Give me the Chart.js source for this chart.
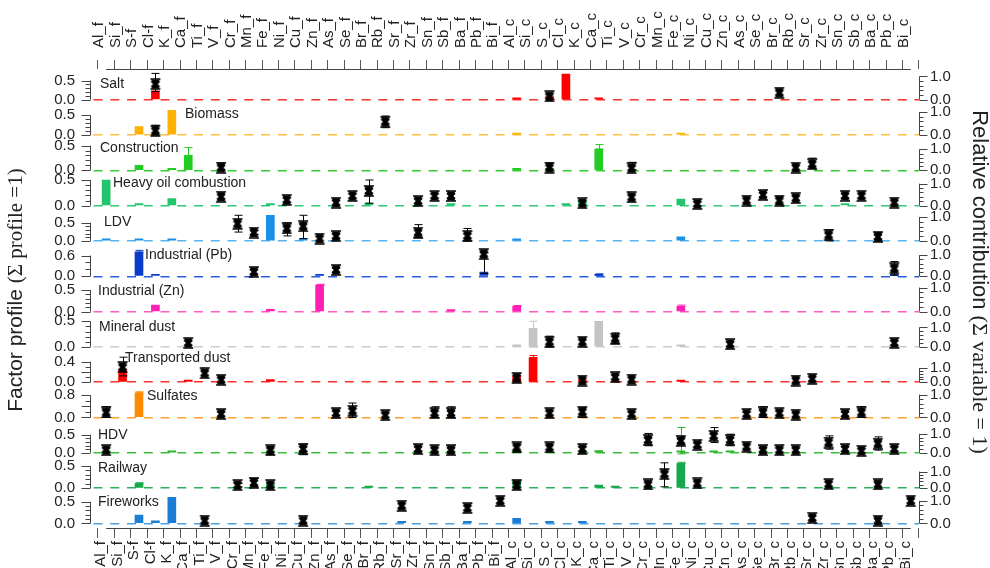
<!DOCTYPE html>
<html>
<head>
<meta charset="utf-8">
<script src="https://cdn.jsdelivr.net/npm/chart.js@4.4.1/dist/chart.umd.min.js"></script>
<style>
  html, body { margin: 0; padding: 0; background: #fff; }
  #wrap { width: 990px; height: 568px; }
</style>
</head>
<body>
<div id="wrap"><canvas id="chartCanvas"></canvas></div>
<script>
// Variables (fine and coarse fraction)
const categories = ['Al_f','Si_f','S-f','Cl-f','K_f','Ca_f','Ti_f','V_f','Cr_f','Mn_f','Fe_f','Ni_f','Cu_f','Zn_f',
  'As_f','Se_f','Br_f','Rb_f','Sr_f','Zr_f','Sn_f','Sb_f','Ba_f','Pb_f','Bi_f',
  'Al_c','Si_c','S_c','Cl_c','K_c','Ca_c','Ti_c','V_c','Cr_c','Mn_c','Fe_c','Ni_c','Cu_c','Zn_c',
  'As_c','Se_c','Br_c','Rb_c','Sr_c','Zr_c','Sn_c','Sb_c','Ba_c','Pb_c','Bi_c'];

// [variable, factor profile, (err low, err high)]
const saltProfile = [['Cl-f', 0.23], ['Al_c', 0.03], ['S_c', 0.08], ['Cl_c', 0.67], ['Ca_c', 0.01]];
const biomassProfile = [['S-f', 0.21], ['K_f', 0.62], ['Al_c', 0.01], ['Fe_c', 0.01]];
const constructionProfile = [['S-f', 0.10], ['K_f', 0.01], ['Ca_f', 0.30, 0.30, 0.46], ['Al_c', 0.035], ['S_c', 0.03], ['Ca_c', 0.43, 0.43, 0.52]];
const heavyOilProfile = [['Al_f', 0.50], ['S-f', 0.02], ['K_f', 0.14], ['Fe_f', 0.03], ['Br_f', 0.05], ['Sb_f', 0.03],
  ['Cl_c', 0.01], ['K_c', 0.10], ['Fe_c', 0.13], ['Sn_c', 0.03]];
const ldvProfile = [['Al_f', 0.02], ['S-f', 0.03], ['K_f', 0.02], ['Fe_f', 0.70], ['Cu_f', 0.05], ['Al_c', 0.02], ['Fe_c', 0.11]];
const pbProfile = [['S-f', 0.70, 0.70, 0.75], ['Cl-f', 0.02], ['Zn_f', 0.02], ['Pb_f', 0.12], ['Ca_c', 0.05, 0.03, 0.07], ['Pb_c', 0.03]];
const znProfile = [['Cl-f', 0.15], ['Fe_f', 0.05], ['Zn_f', 0.61, 0.61, 0.63], ['Sb_f', 0.02], ['Al_c', 0.12, 0.12, 0.14], ['Fe_c', 0.12, 0.12, 0.15]];
const mineralProfile = [['Al_c', 0.02], ['Si_c', 0.36, 0.0, 0.50], ['Ca_c', 0.50], ['Fe_c', 0.02]];
const transportedProfile = [['Si_f', 0.24], ['Ca_f', 0.02], ['Fe_f', 0.05], ['Al_c', 0.13], ['Si_c', 0.48, 0.48, 0.52], ['K_c', 0.02], ['Fe_c', 0.03]];
const sulfatesProfile = [['S-f', 0.88, 0.88, 0.92]];
const hdvProfile = [['Al_f', 0.05], ['K_f', 0.01], ['Fe_f', 0.05], ['Cu_f', 0.05], ['Zr_f', 0.03], ['Sn_f', 0.03], ['Sb_f', 0.03],
  ['Al_c', 0.07], ['Ca_c', 0.06], ['Fe_c', 0.02, -0.03, 0.70], ['Cu_c', 0.02], ['Zn_c', 0.02], ['Se_c', 0.03]];
const railwayProfile = [['S-f', 0.10, 0.10, 0.12], ['Fe_f', 0.09], ['Br_f', 0.01], ['Al_c', 0.16, 0.16, 0.18], ['Ca_c', 0.07],
  ['Ti_c', 0.01], ['Cr_c', 0.02], ['Fe_c', 0.55, 0.55, 0.58]];
const fireworksProfile = [['S-f', 0.19], ['Cl-f', 0.06], ['K_f', 0.60], ['Sr_f', 0.02], ['Ba_f', 0.02], ['Al_c', 0.12], ['S_c', 0.03], ['K_c', 0.03]];

// [variable, relative contribution, (err low, err high)]
const saltContrib = [['Cl-f', 0.67, 0.35, 1.13], ['S_c', 0.14], ['Br_c', 0.30]];
const biomassContrib = [['Cl-f', 0.19, 0.0, 0.43], ['Rb_f', 0.58, 0.32, 0.83]];
const constructionContrib = [['V_f', 0.13, 0.02, 0.35], ['S_c', 0.13, 0.05, 0.35], ['V_c', 0.10, 0.02, 0.38], ['Rb_c', 0.13], ['Sr_c', 0.29, 0.10, 0.58]];
const heavyOilContrib = [['V_f', 0.41], ['Ni_f', 0.26], ['As_f', 0.14], ['Se_f', 0.44], ['Br_f', 0.67, 0.11, 1.17], ['Zr_f', 0.21],
  ['Sn_f', 0.44], ['Sb_f', 0.44], ['K_c', 0.11], ['V_c', 0.38], ['Ni_c', 0.08], ['As_c', 0.23], ['Se_c', 0.49],
  ['Br_c', 0.23, 0.05, 0.40], ['Rb_c', 0.34], ['Sn_c', 0.45], ['Sb_c', 0.45], ['Pb_c', 0.14]];
const ldvContrib = [['Cr_f', 0.72, 0.37, 1.07], ['Mn_f', 0.35, 0.27, 0.43], ['Ni_f', 0.52, 0.21, 0.75], ['Cu_f', 0.61, 0.10, 1.07],
  ['Zn_f', 0.10], ['As_f', 0.20], ['Zr_f', 0.35, 0.14, 0.68], ['Ba_f', 0.21, 0.0, 0.52], ['Zr_c', 0.24, 0.0, 0.47], ['Ba_c', 0.17, 0.0, 0.35]];
const pbContrib = [['Mn_f', 0.21], ['As_f', 0.30], ['Pb_f', 1.05, 0.13, 1.11], ['Pb_c', 0.37, 0.05, 0.70]];
const znContrib = [];
const mineralContrib = [['Ca_f', 0.20], ['S_c', 0.26, 0.0, 0.55], ['K_c', 0.26], ['Ti_c', 0.43, 0.17, 0.72], ['Zn_c', 0.14], ['Pb_c', 0.20]];
const transportedContrib = [['Si_f', 1.07, 0.45, 1.79], ['Ti_f', 0.64], ['V_f', 0.17], ['Al_c', 0.31], ['K_c', 0.12],
  ['Ti_c', 0.36], ['V_c', 0.19], ['Rb_c', 0.12], ['Sr_c', 0.24]];
const sulfatesContrib = [['Al_f', 0.22, 0.0, 0.47], ['V_f', 0.15], ['As_f', 0.19], ['Se_f', 0.29, 0.0, 0.63], ['Rb_f', 0.10],
  ['Sn_f', 0.19, 0.0, 0.47], ['Sb_f', 0.19, 0.0, 0.47], ['S_c', 0.19], ['K_c', 0.25, 0.0, 0.41], ['V_c', 0.15], ['As_c', 0.15],
  ['Se_c', 0.22, 0.0, 0.47], ['Br_c', 0.19], ['Rb_c', 0.12], ['Sn_c', 0.15], ['Sb_c', 0.22, 0.0, 0.47]];
const hdvContrib = [['Al_f', 0.14], ['Fe_f', 0.14, -0.1, 0.32], ['Cu_f', 0.20, -0.1, 0.46], ['Zr_f', 0.20], ['Sn_f', 0.14], ['Sb_f', 0.14],
  ['Al_c', 0.28, 0.07, 0.46], ['S_c', 0.28], ['K_c', 0.20, 0.08, 0.32], ['Cr_c', 0.67, 0.37, 1.02], ['Fe_c', 0.63, 0.45, 0.82],
  ['Ni_c', 0.42, 0.30, 0.54], ['Cu_c', 0.89, 0.54, 1.33], ['Zn_c', 0.67, 0.37, 0.98], ['As_c', 0.32], ['Se_c', 0.14], ['Br_c', 0.14],
  ['Rb_c', 0.14], ['Zr_c', 0.54, 0.19, 0.89], ['Sn_c', 0.20], ['Sb_c', 0.10], ['Ba_c', 0.49, 0.14, 0.84], ['Pb_c', 0.20]];
const railwayContrib = [['Cr_f', 0.18, 0.08, 0.28], ['Mn_f', 0.32, 0.08, 0.59], ['Fe_f', 0.18], ['Al_c', 0.18], ['Cr_c', 0.22],
  ['Mn_c', 0.85, 0.08, 1.53], ['Ni_c', 0.28], ['Zr_c', 0.24], ['Ba_c', 0.22]];
const fireworksContrib = [['Ti_f', 0.12], ['Cu_f', 0.12], ['Sr_f', 0.78], ['Ba_f', 0.68], ['Bi_f', 1.0], ['Sr_c', 0.24], ['Ba_c', 0.12], ['Bi_c', 1.0]];

// panel styling: axis maxima, ticks, colours, label placement
const panels = [
  {name: 'Salt', profile: saltProfile, contrib: saltContrib, color: '#ff0000', line: '#ff3030', lMax: 0.80, rMax: 1.32, lTicks: [0, 0.5], lMinor: 0.1, tx: 100, ty: 16},
  {name: 'Biomass', profile: biomassProfile, contrib: biomassContrib, color: '#ffb000', line: '#ffc040', lMax: 0.77, rMax: 1.34, lTicks: [0, 0.5], lMinor: 0.1, tx: 185, ty: 21},
  {name: 'Construction', profile: constructionProfile, contrib: constructionContrib, color: '#22cc22', line: '#33cc33', lMax: 0.62, rMax: 1.46, lTicks: [0, 0.5], lMinor: 0.1, tx: 100, ty: 22},
  {name: 'Heavy oil combustion', profile: heavyOilProfile, contrib: heavyOilContrib, color: '#22c46e', line: '#33c878', lMax: 0.60, rMax: 1.40, lTicks: [0, 0.5], lMinor: 0.1, tx: 113, ty: 23},
  {name: 'LDV', profile: ldvProfile, contrib: ldvContrib, color: '#1a8fe8', line: '#5ab4f0', lMax: 0.84, rMax: 1.28, lTicks: [0, 0.5], lMinor: 0.1, tx: 104, ty: 19},
  {name: 'Industrial (Pb)', profile: pbProfile, contrib: pbContrib, color: '#0a3ccc', line: '#2a5ee0', lMax: 0.89, rMax: 1.46, lTicks: [0, 0.6], lMinor: 0.2, tx: 145, ty: 21},
  {name: 'Industrial (Zn)', profile: znProfile, contrib: znContrib, color: '#ff1fb4', line: '#ff5ac8', lMax: 0.71, rMax: 1.28, lTicks: [0, 0.5], lMinor: 0.1, tx: 98, ty: 20},
  {name: 'Mineral dust', profile: mineralProfile, contrib: mineralContrib, color: '#c4c4c4', line: '#cccccc', lMax: 0.60, rMax: 1.58, lTicks: [0, 0.5], lMinor: 0.1, tx: 99, ty: 20},
  {name: 'Transported dust', profile: transportedProfile, contrib: transportedContrib, color: '#ff0000', line: '#ff3030', lMax: 0.60, rMax: 2.20, lTicks: [0, 0.2, 0.4], lMinor: 0.1, tx: 125, ty: 24},
  {name: 'Sulfates', profile: sulfatesProfile, contrib: sulfatesContrib, color: '#ff8c00', line: '#ffa030', lMax: 1.10, rMax: 1.34, lTicks: [0, 0.4, 0.8], lMinor: 0.2, tx: 147, ty: 21},
  {name: 'HDV', profile: hdvProfile, contrib: hdvContrib, color: '#2cb52c', line: '#3cbc3c', lMax: 0.85, rMax: 1.62, lTicks: [0, 0.5], lMinor: 0.1, tx: 98, ty: 18},
  {name: 'Railway', profile: railwayProfile, contrib: railwayContrib, color: '#16a84c', line: '#2cb05a', lMax: 0.69, rMax: 1.86, lTicks: [0, 0.5], lMinor: 0.1, tx: 98, ty: 20},
  {name: 'Fireworks', profile: fireworksProfile, contrib: fireworksContrib, color: '#1a7fd4', line: '#4aa0e0', lMax: 0.71, rMax: 1.36, lTicks: [0, 0.5], lMinor: 0.1, tx: 98, ty: 21}
];
const rightTicks = [0, 1];
const ZERO_FRAC = 0.1494; // axis min as fraction of max, keeps the zero line near panel bottom

const sans = '"Liberation Sans", Arial, sans-serif';
const serif = '"Liberation Serif", "Times New Roman", serif';
const idx = name => categories.indexOf(name);

// bold black cross marker with caps
function makeMarker() {
  const c = document.createElement('canvas');
  c.width = 12; c.height = 12;
  const g = c.getContext('2d');
  g.fillStyle = '#000';
  g.strokeStyle = '#000';
  // hourglass body
  g.beginPath();
  g.moveTo(1.5, 1.5); g.lineTo(10.5, 1.5); g.lineTo(6, 6); g.lineTo(10.5, 10.5); g.lineTo(1.5, 10.5); g.lineTo(6, 6);
  g.closePath();
  g.fill();
  // cross arms
  g.lineWidth = 3.2;
  g.beginPath();
  g.moveTo(2.5, 2.5); g.lineTo(9.5, 9.5);
  g.moveTo(9.5, 2.5); g.lineTo(2.5, 9.5);
  g.stroke();
  g.lineWidth = 1.6;
  g.beginPath();
  g.moveTo(1, 1); g.lineTo(11, 1);
  g.moveTo(1, 11); g.lineTo(11, 11);
  g.stroke();
  return c;
}
const marker = makeMarker();

// scales
const xCommon = (pos) => ({
  type: 'linear', position: pos, min: -0.418, max: 49,
  afterBuildTicks: s => { s.ticks = categories.map((c, i) => ({value: i})); },
  afterFit: s => { s.height = pos === 'top' ? 69 : 40; },
  grid: {drawOnChartArea: false, drawTicks: true, tickLength: pos === 'top' ? 9 : 10, tickColor: '#555', tickWidth: 1},
  border: {display: false},
  ticks: {autoSkip: false, minRotation: 90, maxRotation: 90, padding: pos === 'top' ? 12 : 3,
    labelOffset: pos === 'top' ? 11 : -5,
    color: '#222', font: {family: sans, size: 15}, callback: v => categories[v] ?? ''}
});
const scales = {x: xCommon('bottom'), xt: xCommon('top')};

for (let i = panels.length - 1; i >= 0; i--) {
  const p = panels[i];
  scales['L' + i] = {
    type: 'linear', position: 'left', stack: 'left', stackWeight: 1,
    min: -p.lMax * ZERO_FRAC, max: p.lMax,
    afterBuildTicks: s => { s.ticks = p.lTicks.map(v => ({value: v})); },
    afterFit: s => { s.width = 91; },
    grid: {drawTicks: false, lineWidth: 1.5, color: ctx => (ctx.tick && ctx.tick.value === 0) ? p.line : 'rgba(0,0,0,0)'},
    border: {display: false, dash: [9, 7.755], dashOffset: -2.5},
    ticks: {padding: 16, color: '#222', font: {family: sans, size: 15}, callback: v => v.toFixed(1)}
  };
}
panels.forEach((p, i) => {
  scales['R' + i] = {
    type: 'linear', position: 'right', stack: 'right', stackWeight: 1,
    min: -p.rMax * ZERO_FRAC, max: p.rMax,
    afterBuildTicks: s => { s.ticks = rightTicks.map(v => ({value: v})); },
    afterFit: s => { s.width = 71; },
    grid: {display: false, drawTicks: false},
    border: {display: false},
    ticks: {padding: 11, color: '#222', font: {family: sans, size: 15}, callback: v => v.toFixed(1)}
  };
});

// datasets
const datasets = [];
panels.forEach((p, i) => {
  datasets.push({
    type: 'bar', label: p.name + ' profile', xAxisID: 'x', yAxisID: 'L' + i,
    data: p.profile.map(r => ({x: idx(r[0]), y: r[1]})),
    errs: p.profile.map(r => r.length > 3 ? [r[2], r[3]] : null), errColor: p.color,
    backgroundColor: p.color, barThickness: 8, minBarLength: 2, grouped: false, order: 2
  });
  datasets.push({
    type: 'line', label: p.name + ' contribution', xAxisID: 'x', yAxisID: 'R' + i,
    data: p.contrib.map(r => ({x: idx(r[0]), y: r[1]})),
    errs: p.contrib.map(r => r.length > 3 ? [r[2], r[3]] : null), errColor: '#000',
    showLine: false, pointStyle: marker, pointRadius: 5, clip: false, order: 1
  });
});

function drawErrs(chart, index) {
  const ds = chart.data.datasets[index];
  if (!ds.errs) return;
  const meta = chart.getDatasetMeta(index);
  const ys = chart.scales[ds.yAxisID];
  const g = chart.ctx;
  g.save();
  g.strokeStyle = ds.errColor;
  g.lineWidth = 1;
  ds.errs.forEach((e, j) => {
    if (!e) return;
    const x = Math.round(meta.data[j].x) + 0.5;
    const y1 = ys.getPixelForValue(e[0]), y2 = ys.getPixelForValue(e[1]);
    g.beginPath();
    g.moveTo(x, y1); g.lineTo(x, y2);
    g.moveTo(x - 4, y1); g.lineTo(x + 4, y1);
    g.moveTo(x - 4, y2); g.lineTo(x + 4, y2);
    g.stroke();
  });
  g.restore();
}

const errorBars = {
  id: 'errorBars',
  beforeDatasetDraw(chart, args) { if (chart.data.datasets[args.index].type === 'line') drawErrs(chart, args.index); },
  afterDatasetDraw(chart, args) { if (chart.data.datasets[args.index].type === 'bar') drawErrs(chart, args.index); }
};

const decorations = {
  id: 'decorations',
  afterDraw(chart) {
    const g = chart.ctx;
    const area = chart.chartArea;
    const xs = chart.scales.x;
    g.save();
    g.strokeStyle = '#444';
    g.lineWidth = 1;
    // x axis lines
    const x0 = xs.getPixelForValue(0), x1 = xs.getPixelForValue(categories.length - 1);
    g.beginPath();
    g.moveTo(x0, area.top + 0.5); g.lineTo(x1, area.top + 0.5);
    g.moveTo(x0, area.bottom + 0.5); g.lineTo(x1, area.bottom + 0.5);
    g.stroke();
    panels.forEach((p, i) => {
      const L = chart.scales['L' + i], R = chart.scales['R' + i];
      const xl = area.left - 0.5, xr = area.right + 0.5;
      const lTop = p.lTicks[p.lTicks.length - 1];
      g.beginPath();
      g.moveTo(xl, L.getPixelForValue(0)); g.lineTo(xl, L.getPixelForValue(lTop));
      for (let k = 0; k * p.lMinor <= lTop + 1e-9; k++) {
        const v = k * p.lMinor;
        const major = p.lTicks.some(t => Math.abs(t - v) < 1e-9);
        const y = Math.round(L.getPixelForValue(v)) + 0.5;
        g.moveTo(xl - (major ? 9 : 5), y); g.lineTo(xl, y);
      }
      g.moveTo(xr, R.getPixelForValue(0)); g.lineTo(xr, R.getPixelForValue(1));
      for (let k = 0; k <= 5; k++) {
        const v = k * 0.2;
        const y = Math.round(R.getPixelForValue(v)) + 0.5;
        g.moveTo(xr, y); g.lineTo(xr + (k === 0 || k === 5 ? 8 : 4), y);
      }
      g.stroke();
      // panel name
      g.fillStyle = '#222';
      g.font = '14px ' + sans;
      g.textBaseline = 'middle';
      g.textAlign = 'left';
      g.fillText(p.name, p.tx, L.getPixelForValue(0) - p.ty);
    });
    // axis titles in two fonts
    const title = (parts, cx, cy, rot) => {
      g.save();
      g.translate(cx, cy);
      g.rotate(rot);
      let total = 0;
      parts.forEach(pt => { g.font = pt[1]; total += g.measureText(pt[0]).width; });
      let x = -total / 2;
      parts.forEach(pt => { g.font = pt[1]; g.fillText(pt[0], x, 0); x += g.measureText(pt[0]).width; });
      g.restore();
    };
    g.fillStyle = '#222';
    g.textBaseline = 'middle';
    title([['Factor profile ', '21px ' + sans], ['(\u03A3 profile =1)', '21px ' + serif]], 16, 290, -Math.PI / 2);
    title([['Relative contribution ', '22px ' + sans], ['(\u03A3 variable = 1)', '22px ' + serif]], 979, 282, Math.PI / 2);
    g.restore();
  }
};

const ctx = document.getElementById('chartCanvas').getContext('2d');
const myChart = new Chart(ctx, {
  type: 'bar',
  data: {datasets: datasets},
  options: {
    responsive: true,
    maintainAspectRatio: false,
    animation: false,
    layout: {padding: 0},
    plugins: {legend: {display: false}, tooltip: {enabled: false}},
    scales: scales
  },
  plugins: [errorBars, decorations]
});
</script>
</body>
</html>
